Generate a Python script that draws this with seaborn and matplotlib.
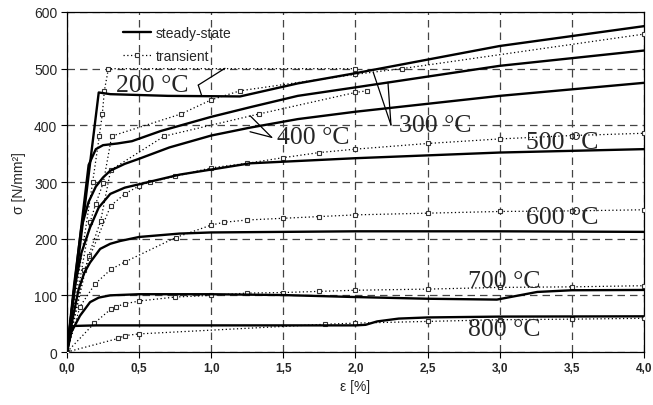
import numpy as np
import pandas as pd
import matplotlib
matplotlib.use("Agg")
import matplotlib.pyplot as plt
import seaborn as sns
from matplotlib.lines import Line2D

# ---- data: steady-state curves ----
S200_x = [0, 0.22, 0.30, 0.70, 1.20, 1.60, 2.00, 3.00, 4.00]
S200_y = [0, 458, 455, 452, 451, 474, 492, 540, 575]
S300_x = [0, 0.08, 0.15, 0.20, 0.25, 0.35, 0.45, 0.55, 0.65, 1.00, 1.27, 1.60, 2.00, 3.00, 4.00]
S300_y = [0, 180, 330, 358, 365, 368, 372, 381, 390, 415, 432, 452, 467, 505, 532]
S400_x = [0, 0.05, 0.10, 0.15, 0.20, 0.25, 0.30, 0.40, 0.50, 0.71, 1.00, 1.27, 1.60, 2.00, 3.00, 4.00]
S400_y = [0, 120, 220, 265, 292, 308, 320, 332, 341, 361, 382, 396, 411, 424, 452, 475]
S500_x = [0, 0.05, 0.10, 0.16, 0.22, 0.30, 0.40, 0.50, 0.78, 1.00, 1.27, 2.00, 3.00, 4.00]
S500_y = [0, 110, 175, 220, 255, 279, 290, 296, 313, 322, 333, 342, 352, 358]
S600_x = [0, 0.04, 0.08, 0.12, 0.16, 0.23, 0.30, 0.37, 0.50, 0.78, 1.00, 2.00, 3.00, 4.00]
S600_y = [0, 60, 110, 140, 158, 182, 191, 196, 203, 209, 211, 213, 213, 212]
S700_x = [0, 0.03, 0.09, 0.16, 0.22, 0.30, 0.50, 1.00, 1.50, 2.00, 2.50, 2.98, 3.26, 3.50, 4.00]
S700_y = [0, 35, 64, 88, 96, 100, 102, 102, 100.5, 97, 94, 92.5, 106, 109, 109.5]
S800_x = [0, 0.03, 0.05, 0.20, 1.00, 2.00, 2.07, 2.15, 2.30, 2.50, 3.00, 4.00]
S800_y = [0, 40, 46, 47, 47, 47, 48, 54, 59, 61, 62.5, 63]

# ---- data: transient curves ----
T200_x = [0, 0.178, 0.224, 0.245, 0.259, 0.287, 2.00]
T200_y = [0, 300, 381, 420, 461, 500, 500]
T300_x = [0, 0.16, 0.20, 0.252, 0.31, 0.79, 1.00, 1.20, 2.00, 2.32, 4.00]
T300_y = [0, 229, 262, 299, 381, 420, 445, 461, 490, 500, 561]
T400_x = [0, 0.15, 0.233, 0.303, 0.675, 1.33, 2.00, 2.08]
T400_y = [0, 170, 231, 321, 381, 420, 458, 461]
T500_x = [0, 0.12, 0.303, 0.40, 0.50, 0.575, 0.75, 1.00, 1.25, 1.50, 1.75, 2.00, 2.50, 3.00, 3.50, 4.00]
T500_y = [0, 145, 258, 279, 293, 300, 310, 325, 333, 343, 352, 358, 368, 376, 382, 386]
T600_x = [0, 0.09, 0.194, 0.305, 0.402, 0.753, 1.00, 1.09, 1.25, 1.50, 1.75, 2.00, 2.50, 3.00, 3.50, 4.00]
T600_y = [0, 80, 120, 146, 159, 202, 224, 229, 233, 236, 239, 242, 245, 248, 249, 251]
T700_x = [0, 0.19, 0.305, 0.34, 0.40, 0.50, 0.75, 1.00, 1.25, 1.50, 1.75, 2.00, 2.50, 3.00, 3.50, 4.00]
T700_y = [0, 51, 76, 80, 85, 90, 97, 100, 104, 105, 107, 109, 111, 114, 115, 117]
T800_x = [0, 0.356, 0.402, 0.50, 1.79, 2.00, 2.50, 3.00, 3.50, 4.00]
T800_y = [0, 24, 29, 32, 49, 51, 54, 57, 58, 59.5]

x_ticks = [0.0, 0.5, 1.0, 1.5, 2.0, 2.5, 3.0, 3.5, 4.0]
x_ticklabels = ["0,0", "0,5", "1,0", "1,5", "2,0", "2,5", "3,0", "3,5", "4,0"]
y_ticks = [0, 100, 200, 300, 400, 500, 600]

temp_labels = ["200 °C", "300 °C", "400 °C", "500 °C", "600 °C", "700 °C", "800 °C"]
label_pos_x = [0.59, 2.55, 1.705, 3.43, 3.43, 3.03, 3.03]
label_pos_y = [471, 400, 380, 370, 238, 125, 41]

steady = [(S200_x, S200_y), (S300_x, S300_y), (S400_x, S400_y), (S500_x, S500_y),
          (S600_x, S600_y), (S700_x, S700_y), (S800_x, S800_y)]
transient = [(T200_x, T200_y), (T300_x, T300_y), (T400_x, T400_y), (T500_x, T500_y),
             (T600_x, T600_y), (T700_x, T700_y), (T800_x, T800_y)]

sns.set_style("white")
plt.rcParams["font.family"] = ["Liberation Sans", "DejaVu Sans"]

fig = plt.figure(figsize=(6.53, 4.06), dpi=100)
ax = fig.add_axes([0.1026, 0.1305, 0.8836, 0.8375])

for xs, ys in transient:
    df = pd.DataFrame({"eps": xs, "sig": ys})
    sns.lineplot(data=df, x="eps", y="sig", ax=ax, estimator=None, sort=False,
                 color="black", lw=0.9, linestyle=(0, (1, 2)), marker="s",
                 markersize=3.5, markerfacecolor="white", markeredgecolor="#333333",
                 markeredgewidth=0.8, zorder=3)
for xs, ys in steady:
    df = pd.DataFrame({"eps": xs, "sig": ys})
    sns.lineplot(data=df, x="eps", y="sig", ax=ax, estimator=None, sort=False,
                 color="black", lw=1.7, zorder=4)

ax.set_xlim(0, 4)
ax.set_ylim(0, 600)
ax.set_xticks(x_ticks)
ax.set_xticklabels(x_ticklabels, fontweight="bold", fontsize=8.5)
ax.set_yticks(y_ticks)
ax.set_yticklabels([str(v) for v in y_ticks], fontsize=10)
ax.grid(True, color="#444444", linestyle=(0, (6, 4)), linewidth=0.9)
ax.tick_params(axis="both", which="both", direction="out", length=4, width=0.8,
               color="black", bottom=True, left=True, pad=3)
for s in ax.spines.values():
    s.set_color("black")
    s.set_linewidth(0.9)
ax.set_xlabel("ε [%]", fontsize=10, labelpad=4)
ax.set_ylabel("σ [N/mm²]", fontsize=10, labelpad=6)

# temperature labels
for t, lx, ly in zip(temp_labels, label_pos_x, label_pos_y):
    ax.text(lx, ly, t, family="Liberation Serif", fontsize=18.5, ha="center",
            va="center", zorder=5)

# leader lines
lk = dict(color="black", lw=0.9, zorder=5)
ax.plot([0.910, 1.095], [471, 500.6], **lk)
ax.plot([0.910, 0.934], [471, 452], **lk)
ax.plot([2.246, 2.123], [400.6, 493.6], **lk)
ax.plot([2.246, 2.225], [400.6, 476], **lk)
ax.plot([1.419, 1.269], [378.8, 417], **lk)
ax.plot([1.419, 1.269], [378.8, 388.7], **lk)

handles = [Line2D([], [], color="black", lw=1.7),
           Line2D([], [], color="black", lw=0.9, linestyle=(0, (1, 2)), marker="s",
                  markersize=3.5, markerfacecolor="white", markeredgecolor="#333333",
                  markeredgewidth=0.8)]
leg = ax.legend(handles, ["steady-state", "transient"], loc="upper left",
                bbox_to_anchor=(0.075, 0.995), frameon=False, fontsize=10,
                handlelength=2.0, handletextpad=0.35, labelspacing=0.6)

fig.savefig("out.png", dpi=100)
